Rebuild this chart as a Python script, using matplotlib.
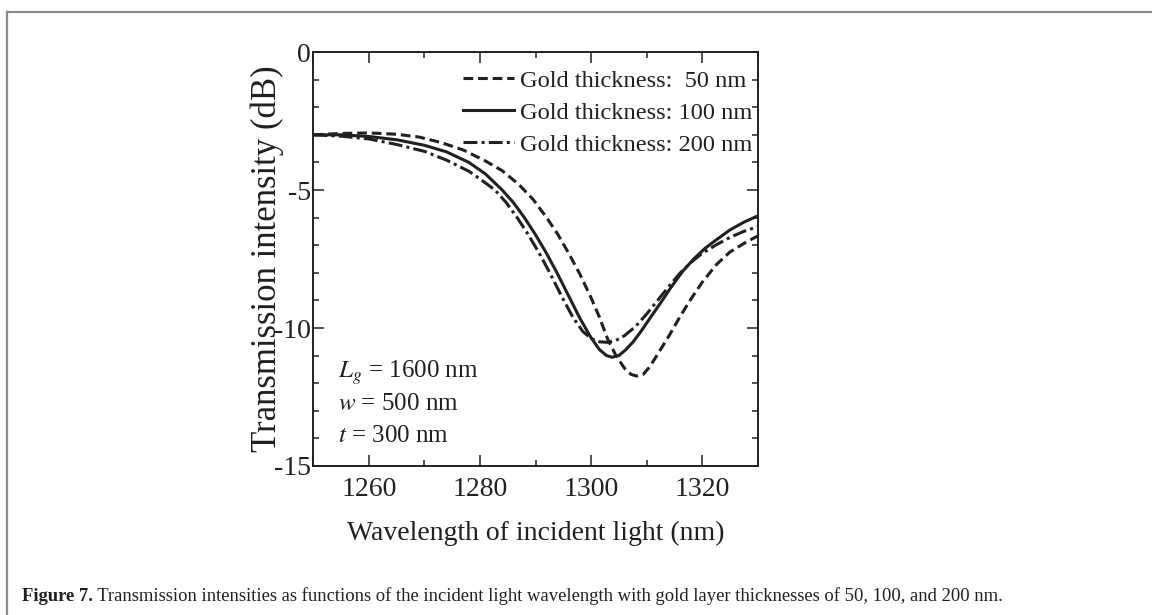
import matplotlib
matplotlib.use("Agg")
import matplotlib.pyplot as plt
from matplotlib.lines import Line2D
from matplotlib.ticker import MultipleLocator

plt.rcParams['font.family'] = ['Liberation Serif', 'DejaVu Serif']
plt.rcParams['mathtext.fontset'] = 'stix'
plt.rcParams['lines.scale_dashes'] = False

# values (wavelength in nm, transmission in dB)
wl_50 = [1250, 1255, 1260, 1265, 1269, 1273, 1277, 1281, 1284, 1287, 1289.6, 1292, 1294,
         1296, 1298, 1300, 1301.5, 1303, 1304.5, 1306, 1307.2, 1308.2, 1309.4, 1310.6,
         1312, 1314, 1316, 1318, 1320, 1322.6, 1325, 1328, 1330]
db_50 = [-3.0, -2.95, -2.93, -2.98, -3.08, -3.28, -3.55, -3.95, -4.3, -4.8, -5.35, -6.0, -6.6,
         -7.3, -8.05, -8.9, -9.6, -10.4, -11.0, -11.45, -11.68, -11.74, -11.68, -11.4,
         -10.95, -10.3, -9.6, -8.95, -8.35, -7.7, -7.25, -6.88, -6.67]

wl_100 = [1250, 1255, 1260, 1265, 1270, 1274, 1278, 1281, 1284, 1286, 1288, 1290, 1292,
          1294, 1296, 1298, 1300, 1301.5, 1302.8, 1303.8, 1305, 1306.2, 1307.6, 1309,
          1310.6, 1312.5, 1314.5, 1316.5, 1318.5, 1320.5, 1322.6, 1325, 1327.5, 1330]
db_100 = [-3.0, -3.0, -3.06, -3.18, -3.38, -3.62, -4.0, -4.42, -5.0, -5.45, -6.0, -6.62, -7.3,
          -8.05, -8.85, -9.65, -10.35, -10.78, -11.0, -11.06, -11.0, -10.8, -10.5, -10.12,
          -9.65, -9.1, -8.5, -7.95, -7.5, -7.12, -6.8, -6.45, -6.17, -5.94]

wl_200 = [1250, 1255, 1260, 1265, 1270, 1274, 1278, 1280, 1282.7, 1284.7, 1286.7, 1288.7,
          1290.7, 1292.7, 1294.7, 1296.7, 1298.5, 1300, 1301.5, 1303, 1304.5, 1306, 1308,
          1310, 1312, 1314, 1316, 1318, 1320, 1322.6, 1325, 1327.5, 1330]
db_200 = [-3.0, -3.05, -3.15, -3.35, -3.6, -3.92, -4.32, -4.6, -5.0, -5.45, -6.0, -6.62,
          -7.3, -8.05, -8.85, -9.6, -10.12, -10.38, -10.5, -10.52, -10.45, -10.28, -9.95,
          -9.5, -9.0, -8.5, -8.02, -7.62, -7.3, -6.98, -6.72, -6.5, -6.33]

labels = ['Gold thickness:  50 nm', 'Gold thickness: 100 nm', 'Gold thickness: 200 nm']
params = ['$L_g$ = 1600 nm', '$w$ = 500 nm', '$t$ = 300 nm']
caption_bold = 'Figure 7.'
caption_text = (' Transmission intensities as functions of the incident light wavelength '
                'with gold layer thicknesses of 50, 100, and 200 nm.')

ink = '#231f20'


def figure7():
    fig = plt.figure(figsize=(11.52, 6.15), dpi=100)
    ax = fig.add_axes([0.2721, 0.2423, 0.3855, 0.6731])

    ax.plot(wl_50, db_50, color=ink, lw=2.2, dashes=(7, 3.5), label=labels[0])
    ax.plot(wl_100, db_100, color=ink, lw=2.2, label=labels[1])
    ax.plot(wl_200, db_200, color=ink, lw=2.2, dashes=(10, 3, 2.2, 3), label=labels[2])

    ax.set_xlim(1250, 1330)
    ax.set_ylim(-15, 0)
    ax.xaxis.set_major_locator(MultipleLocator(20))
    ax.xaxis.set_minor_locator(MultipleLocator(10))
    ax.yaxis.set_major_locator(MultipleLocator(5))
    ax.yaxis.set_minor_locator(MultipleLocator(1))
    ax.set_xticks([1260, 1280, 1300, 1320])
    ax.set_yticks([0, -5, -10, -15])
    ax.set_yticklabels(['0', '-5', '-10', '-15'])

    ax.tick_params(which='both', direction='in', top=True, right=True,
                   color=ink, width=1.1, labelcolor=ink, labelsize=20)
    ax.tick_params(which='major', length=8)
    ax.tick_params(which='minor', length=4.5)
    ax.tick_params(axis='x', pad=8)
    ax.tick_params(axis='y', pad=2)
    for s in ax.spines.values():
        s.set_linewidth(1.4)
        s.set_color(ink)

    ax.set_xlabel('Wavelength of incident light (nm)', fontsize=20, color=ink)
    ax.xaxis.set_label_coords(0.5, -0.132)
    ax.set_ylabel('Transmission intensity (dB)', fontsize=25, color=ink)
    ax.yaxis.set_label_coords(-0.066, 0.5)

    leg = ax.legend(loc='upper right', bbox_to_anchor=(0.988, 0.957), frameon=False,
                    fontsize=17.6, handlelength=2.09, handletextpad=0.25,
                    labelspacing=0.4, borderpad=0, borderaxespad=0)
    for t in leg.get_texts():
        t.set_color(ink)

    for i, p in enumerate(params):
        ax.text(0.055, [0.2126, 0.1353, 0.058][i], p, transform=ax.transAxes,
                fontsize=18, color=ink, va='baseline', ha='left')

    # grey frame round the figure panel
    fig.add_artist(Line2D([0.0065, 1.0], [0.9805, 0.9805], color='#8a8a8a', lw=1.6))
    fig.add_artist(Line2D([0.0065, 0.0065], [0.0, 0.9805], color='#8a8a8a', lw=1.6))

    # caption: bold part, then the rest right after it
    t1 = fig.text(22 / 1152, 1 - 601 / 615, caption_bold, fontsize=13.4, weight='bold',
                  color=ink, va='baseline', ha='left')
    fig.canvas.draw()
    bb = t1.get_window_extent()
    fig.text(bb.x1 / 1152, 1 - 601 / 615, caption_text, fontsize=13.4, color=ink,
             va='baseline', ha='left')

    fig.savefig('out.png', dpi=100)


if __name__ == '__main__':
    figure7()
